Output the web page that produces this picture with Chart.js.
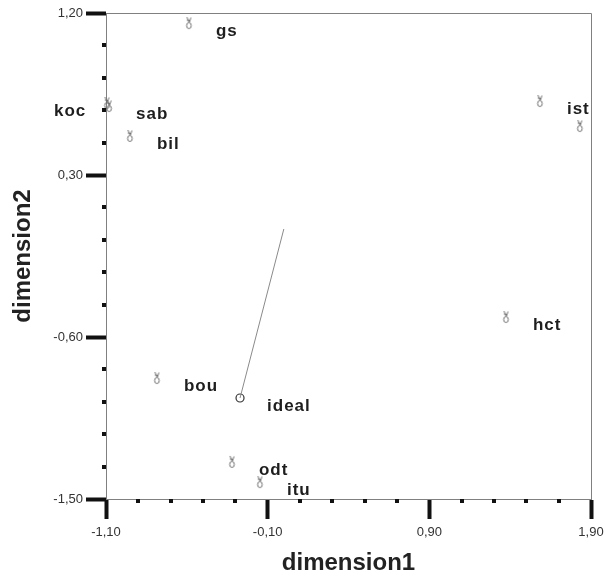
<!DOCTYPE html>
<html lang="en">
<head>
<meta charset="UTF-8">
<title>dimension plot</title>
<script src="https://cdn.jsdelivr.net/npm/chart.js"></script>
<style>
    html, body { margin: 0; padding: 0; background: #fff; }
    #wrap { width: 606px; height: 576px; }
</style>
</head>
<body>
<div id="wrap"><canvas id="plot" width="606" height="576"></canvas></div>
<script>
// object coordinates
const names = ['gs', 'koc', 'sab', 'bil', 'ist', '', 'hct', 'bou', 'odt', 'itu'];
const dim1 = [-0.587, -1.094, -1.081, -0.952, 1.584, 1.831, 1.374, -0.785, -0.321, -0.148];
const dim2 = [1.144, 0.700, 0.683, 0.517, 0.711, 0.572, -0.489, -0.828, -1.294, -1.406];
const idealName = 'ideal';
const idealPoint = [-0.271, -0.939];
const origin = [0, 0];
const xMajor = [-1.10, -0.10, 0.90, 1.90];
const yMajor = [-1.50, -0.60, 0.30, 1.20];
const minorPerStep = 4;
const leftLabels = ['koc'];

const fmt = v => v.toFixed(2).replace('.', ',');

// small hand-like marker (two prongs over a loop)
function makeGlyph() {
    const c = document.createElement('canvas');
    c.width = 9; c.height = 14;
    const g = c.getContext('2d');
    g.strokeStyle = '#6e6e6e';
    g.lineWidth = 1;
    g.beginPath();
    g.moveTo(2.5, 1); g.lineTo(4.5, 6);
    g.moveTo(6.5, 1.5); g.lineTo(5, 6);
    g.moveTo(2.5, 4); g.lineTo(6, 4.5);
    g.stroke();
    g.beginPath();
    g.ellipse(4.5, 9.5, 2.3, 3, 0, 0, Math.PI * 2);
    g.stroke();
    return c;
}
const glyph = makeGlyph();

function withMinors(majors) {
    const out = [];
    for (let i = 0; i < majors.length; i++) {
        out.push({ value: majors[i], isMajor: true });
        if (i < majors.length - 1) {
            const step = (majors[i + 1] - majors[i]) / (minorPerStep + 1);
            for (let k = 1; k <= minorPerStep; k++) {
                out.push({ value: majors[i] + step * k, isMajor: false });
            }
        }
    }
    return out;
}

const tickWidth = ctx => (ctx.tick && ctx.tick.isMajor) ? 4 : 0;
const tickColor = ctx => (ctx.tick && ctx.tick.isMajor) ? '#111' : 'rgba(0,0,0,0)';

const framePlugin = {
    id: 'frame',
    afterDraw(chart) {
        const { ctx, chartArea: a, scales } = chart;
        ctx.save();
        ctx.strokeStyle = '#808080';
        ctx.lineWidth = 1;
        ctx.beginPath();
        ctx.moveTo(a.left, a.top + 0.5);
        ctx.lineTo(a.right + 0.5, a.top + 0.5);
        ctx.lineTo(a.right + 0.5, a.bottom);
        ctx.stroke();
        // minor ticks
        ctx.fillStyle = '#111';
        scales.x.ticks.forEach(t => {
            if (t.isMajor) return;
            const px = scales.x.getPixelForValue(t.value);
            ctx.fillRect(Math.round(px) - 2, a.bottom, 4, 4);
        });
        scales.y.ticks.forEach(t => {
            if (t.isMajor) return;
            const py = scales.y.getPixelForValue(t.value);
            ctx.fillRect(a.left - 4, Math.round(py) - 2, 4, 4);
        });
        ctx.restore();
    },
    afterDatasetsDraw(chart) {
        const { ctx } = chart;
        ctx.save();
        ctx.fillStyle = '#1e1e1e';
        ctx.font = 'bold 17px "Liberation Sans", Arial, sans-serif';
        ctx.letterSpacing = '1px';
        ctx.textBaseline = 'middle';
        ctx.textAlign = 'left';
        const pts = chart.getDatasetMeta(0).data;
        pts.forEach((el, i) => {
            const name = names[i];
            if (!name) return;
            const dx = leftLabels.includes(name) ? -53 : 27;
            ctx.fillText(name, el.x + dx, el.y + 8);
        });
        const id = chart.getDatasetMeta(2).data[0];
        ctx.fillText(idealName, id.x + 27, id.y + 8);
        ctx.restore();
    }
};

new Chart(document.getElementById('plot'), {
    type: 'scatter',
    data: {
        datasets: [
            {
                data: dim1.map((x, i) => ({ x: x, y: dim2[i] })),
                pointStyle: glyph,
                pointRadius: 6,
                clip: false
            },
            {
                type: 'line',
                data: [{ x: idealPoint[0], y: idealPoint[1] }, { x: origin[0], y: origin[1] }],
                borderColor: '#8a8a8a',
                borderWidth: 1,
                pointRadius: 0,
                showLine: true,
                fill: false
            },
            {
                data: [{ x: idealPoint[0], y: idealPoint[1] }],
                pointStyle: 'circle',
                pointRadius: 4,
                borderColor: '#333',
                borderWidth: 1.2,
                backgroundColor: '#fff'
            }
        ]
    },
    options: {
        responsive: false,
        devicePixelRatio: 1,
        animation: false,
        layout: { padding: { top: 13, right: 15, left: 0, bottom: 0 } },
        plugins: { legend: { display: false }, tooltip: { enabled: false } },
        scales: {
            x: {
                type: 'linear',
                min: xMajor[0],
                max: xMajor[xMajor.length - 1],
                afterBuildTicks: s => { s.ticks = withMinors(xMajor); },
                afterFit: s => { s.height = 77; s.paddingRight = 0; s.paddingLeft = 0; },
                ticks: {
                    autoSkip: false,
                    maxRotation: 0,
                    padding: 6,
                    color: '#333',
                    font: { family: '"Liberation Sans", Arial, sans-serif', size: 13 },
                    callback: (v, i, ticks) => ticks[i].isMajor ? fmt(v) : ''
                },
                grid: { drawOnChartArea: false, tickLength: 20, tickWidth: tickWidth, tickColor: tickColor },
                border: { display: true, color: '#808080', width: 1 },
                title: {
                    display: true,
                    text: 'dimension1',
                    color: '#222',
                    font: { family: '"Liberation Sans", Arial, sans-serif', size: 24, weight: 'bold', lineHeight: 1 },
                    padding: { top: 0, bottom: 1 }
                }
            },
            y: {
                type: 'linear',
                min: yMajor[0],
                max: yMajor[yMajor.length - 1],
                afterBuildTicks: s => { s.ticks = withMinors(yMajor); },
                afterFit: s => { s.width = 106; },
                ticks: {
                    autoSkip: false,
                    padding: 3,
                    color: '#333',
                    font: { family: '"Liberation Sans", Arial, sans-serif', size: 13 },
                    callback: (v, i, ticks) => ticks[i].isMajor ? fmt(v) : ''
                },
                grid: { drawOnChartArea: false, tickLength: 20, tickWidth: tickWidth, tickColor: tickColor },
                border: { display: true, color: '#808080', width: 1 },
                title: {
                    display: true,
                    text: 'dimension2',
                    color: '#222',
                    font: { family: '"Liberation Sans", Arial, sans-serif', size: 24, weight: 'bold', lineHeight: 1 },
                    padding: { top: 11, bottom: 0 }
                }
            }
        }
    },
    plugins: [framePlugin]
});
</script>
</body>
</html>
